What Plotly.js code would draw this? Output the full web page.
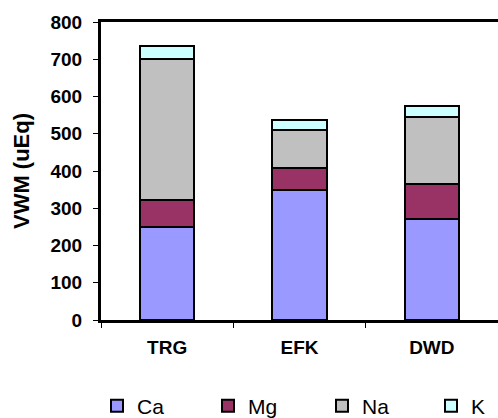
<!DOCTYPE html>
<html>
<head>
<meta charset="utf-8">
<script src="https://cdn.plot.ly/plotly-3.0.1.min.js"></script>
<style>html,body{margin:0;padding:0;background:#fff;}#chart{width:498px;height:418px;}</style>
</head>
<body>
<div id="chart"></div>
<script>
const sites = ["TRG", "EFK", "DWD"];
const ca = [250, 348, 272];
const mg = [71, 60, 92];
const na = [381, 101, 182];
const k  = [34, 29, 29];
const yTicks = [0, 100, 200, 300, 400, 500, 600, 700, 800];

const seriesNames = ["Ca", "Mg", "Na", "K"];
const seriesVals = [ca, mg, na, k];
const seriesColors = ["#9999FF", "#993366", "#C0C0C0", "#CCFFFF"];
const legendIds = ["legend", "legend2", "legend3", "legend4"];
const legendTextX = [137, 248, 362, 471];

const traces = seriesNames.map((name, i) => ({
  type: "bar",
  name: name,
  x: sites,
  y: seriesVals[i],
  legend: legendIds[i],
  marker: { color: seriesColors[i], line: { color: "#000000", width: 2 } },
  hoverinfo: "skip"
}));

const fam = "Liberation Sans, Arial, sans-serif";
const layout = {
  width: 498,
  height: 418,
  margin: { l: 101, r: 0, t: 22, b: 98 },
  paper_bgcolor: "#ffffff",
  plot_bgcolor: "#ffffff",
  barmode: "stack",
  bargap: 0.59,
  showlegend: true,
  xaxis: {
    type: "category",
    range: [-0.5, 2.5],
    showline: true, linecolor: "#000", linewidth: 3,
    mirror: true,
    ticks: "outside", ticklen: 5, tickwidth: 1, tickcolor: "#000",
    tickson: "boundaries",
    ticklabelstandoff: 8,
    showgrid: false, zeroline: false,
    tickfont: { family: fam, size: 19, color: "#000", weight: "bold" }
  },
  yaxis: {
    range: [0, 800],
    tickvals: yTicks,
    ticktext: yTicks.map(String),
    showline: true, linecolor: "#000", linewidth: 3,
    ticks: "outside", ticklen: 5, tickwidth: 1, tickcolor: "#000",
    ticklabelstandoff: 7,
    showgrid: false, zeroline: false,
    tickfont: { family: fam, size: 19, color: "#000", weight: "bold" },
    title: { text: "VWM (uEq)", standoff: 15, font: { family: fam, size: 22, color: "#000", weight: "bold" } }
  }
};

legendIds.forEach((id, i) => {
  layout[id] = {
    orientation: "h",
    xref: "container", yref: "container",
    x: (legendTextX[i] - 40) / 498, y: 1 - 406 / 418,
    xanchor: "left", yanchor: "middle",
    font: { family: fam, size: 21, color: "#000" },
    bgcolor: "rgba(0,0,0,0)",
    itemclick: false
  };
});

Plotly.newPlot("chart", traces, layout, { displayModeBar: false, staticPlot: true });
</script>
</body>
</html>
